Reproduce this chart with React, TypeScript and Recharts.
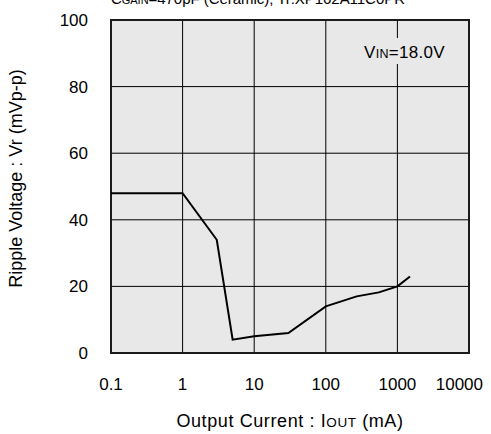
import { LineChart, Line, XAxis, YAxis, CartesianGrid, ReferenceArea } from "recharts";

// output current (mA), log scale
const iout = [0.1, 1, 3, 5, 10, 30, 100, 270, 550, 1000, 1500];
// ripple voltage (mVp-p)
const ripple = [48, 48, 34, 4, 5, 6, 14, 17, 18.2, 20, 23];

const xTicks = [0.1, 1, 10, 100, 1000, 10000];
const yTicks = [0, 20, 40, 60, 80, 100];

const data = iout.map((x, i) => ({ x, vr: ripple[i] }));

const FONT = "'Liberation Sans', Arial, sans-serif";
const PLOT_BG = "#e8e8e8";

function XTick(props: any) {
  const { x, y, payload, index } = props;
  const last = index === xTicks.length - 1;
  return (
    <text
      x={last ? x + 14 : x}
      y={y + 37}
      textAnchor={last ? "end" : "middle"}
      fontSize={17}
      fontFamily={FONT}
      fill="#000"
    >
      {payload.value}
    </text>
  );
}

function XLabel(props: any) {
  const { x, y, width } = props.viewBox;
  return (
    <text
      x={x + width / 2}
      y={y + 74}
      textAnchor="middle"
      fontSize={18}
      fontFamily={FONT}
      letterSpacing={0.6}
      fill="#000"
    >
      Output Current : I<tspan fontSize={13.5}>OUT</tspan> (mA)
    </text>
  );
}

function YLabel(props: any) {
  const { y, height } = props.viewBox;
  const cy = y + height / 2 - 8;
  return (
    <text
      x={22}
      y={cy}
      textAnchor="middle"
      transform={`rotate(-90, 22, ${cy})`}
      fontSize={18}
      fontFamily={FONT}
      fill="#000"
    >
      Ripple Voltage : Vr (mVp-p)
    </text>
  );
}

export default function App() {
  return (
    <div style={{ position: "absolute", left: 0, top: 0, width: 491, height: 434, background: "#fff" }}>
      <LineChart width={491} height={434} data={data} margin={{ top: 20, right: 22, bottom: 0, left: 0 }}>
        <CartesianGrid stroke="#000" strokeWidth={1} fill={PLOT_BG} />
        <XAxis
          dataKey="x"
          type="number"
          scale="log"
          domain={[0.1, 10000]}
          ticks={xTicks}
          allowDataOverflow
          axisLine={false}
          tickLine={false}
          tickSize={0}
          tickMargin={0}
          height={81}
          tick={<XTick />}
          label={XLabel}
        />
        <YAxis
          type="number"
          domain={[0, 100]}
          ticks={yTicks}
          axisLine={false}
          tickLine={false}
          tickSize={0}
          tickMargin={23}
          width={111}
          tick={{ fill: "#000", fontSize: 17, fontFamily: FONT }}
          label={YLabel}
        />
        <ReferenceArea
          x1={0.1}
          x2={10000}
          y1={0}
          y2={100}
          fill="none"
          fillOpacity={0}
          stroke="#1a1a1a"
          strokeWidth={2}
        />
        <Line
          type="linear"
          dataKey="vr"
          stroke="#000"
          strokeWidth={2}
          dot={false}
          isAnimationActive={false}
        />
      </LineChart>
      <svg
        width={491}
        height={434}
        style={{ position: "absolute", left: 0, top: 0, pointerEvents: "none" }}
      >
        <text x={111} y={4} fontSize={15} fontFamily={FONT} textLength={294} fill="#000">
          C<tspan fontSize={11}>GAIN</tspan>=470pF (Ceramic), Tr:XP162A11C0PR
        </text>
        <rect x={362} y={38} width={86} height={26} fill={PLOT_BG} />
        <text x={364} y={58} fontSize={17} fontFamily={FONT} letterSpacing={0.3} fill="#000">
          V<tspan fontSize={12.5}>IN</tspan>=18.0V
        </text>
      </svg>
    </div>
  );
}
